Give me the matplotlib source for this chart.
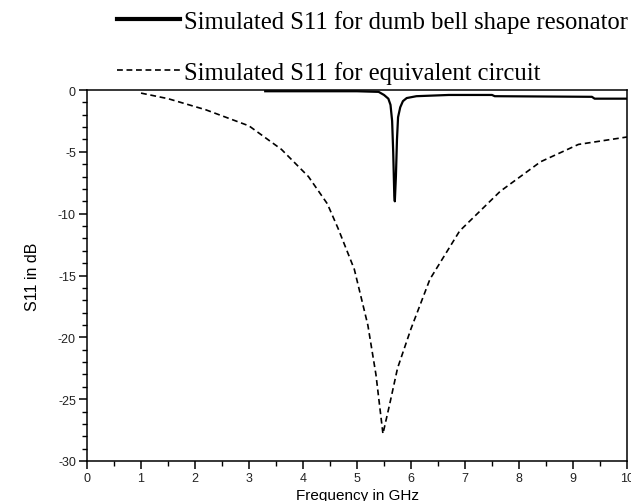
import matplotlib.pyplot as plt
from matplotlib.ticker import MultipleLocator

plt.rcParams['axes.unicode_minus'] = False

# S11 of the dumb bell shape resonator (solid)
freq_db = [3.3, 5.0, 5.4, 5.5, 5.58, 5.62, 5.65, 5.67, 5.69, 5.70, 5.72, 5.74,
           5.76, 5.80, 5.85, 5.92, 6.1, 6.7, 7.5, 7.55, 9.35, 9.4, 10.0]
s11_db = [-0.1, -0.1, -0.15, -0.4, -0.7, -1.2, -2.5, -5.0, -8.5, -9.0, -7.0, -4.0,
          -2.2, -1.4, -0.9, -0.65, -0.5, -0.4, -0.4, -0.5, -0.55, -0.7, -0.7]

# S11 of the equivalent circuit (dashed)
freq_eq = [1.0, 1.5, 2.2, 3.0, 3.6, 4.1, 4.45, 4.65, 4.95, 5.2, 5.35, 5.48,
           5.6, 5.75, 6.0, 6.35, 6.9, 7.65, 8.4, 9.1, 10.0]
s11_eq = [-0.25, -0.7, -1.6, -2.9, -4.8, -7.0, -9.2, -11.2, -14.5, -19.0, -23.0, -27.8,
          -25.5, -22.5, -19.3, -15.3, -11.4, -8.2, -5.8, -4.4, -3.8]

fig = plt.figure(figsize=(6.31, 5.02), dpi=100)
ax = fig.add_axes([0.1379, 0.0797, 0.8558, 0.739])

ax.plot(freq_db, s11_db, color='black', lw=1.6,
        label='Simulated S11 for dumb bell shape resonator')
ax.plot(freq_eq, s11_eq, color='black', lw=1.2, dashes=(3.5, 2.2),
        label='Simulated S11 for equivalent circuit')

ax.set_xlim(0, 10)
ax.set_ylim(-30, 0)
ax.xaxis.set_major_locator(MultipleLocator(1))
ax.xaxis.set_minor_locator(MultipleLocator(0.5))
ax.yaxis.set_major_locator(MultipleLocator(5))
ax.yaxis.set_minor_locator(MultipleLocator(1))
ax.tick_params(which='major', direction='out', length=6, width=1.1,
               labelsize=9, labelcolor='#222222', pad=2)
ax.tick_params(which='minor', direction='out', length=3.5, width=1.0)
for s in ax.spines.values():
    s.set_linewidth(1.1)

ax.set_xlabel('Frequency in GHz', fontsize=11, family='Liberation Sans', labelpad=3)
ax.set_ylabel('S11 in dB', fontsize=11.5, family='Liberation Sans', labelpad=13)
for lab in ax.get_xticklabels() + ax.get_yticklabels():
    lab.set_family('Liberation Sans')

leg = ax.legend(loc='lower left', bbox_to_anchor=(0.0556, 1.016), frameon=False,
                prop={'family': 'Liberation Serif', 'size': 17.7},
                handlelength=2.56, handletextpad=0.16, labelspacing=1.15,
                borderpad=0, borderaxespad=0)
leg.get_lines()[0].set_linewidth(3)

fig.savefig('out.png', dpi=100)
